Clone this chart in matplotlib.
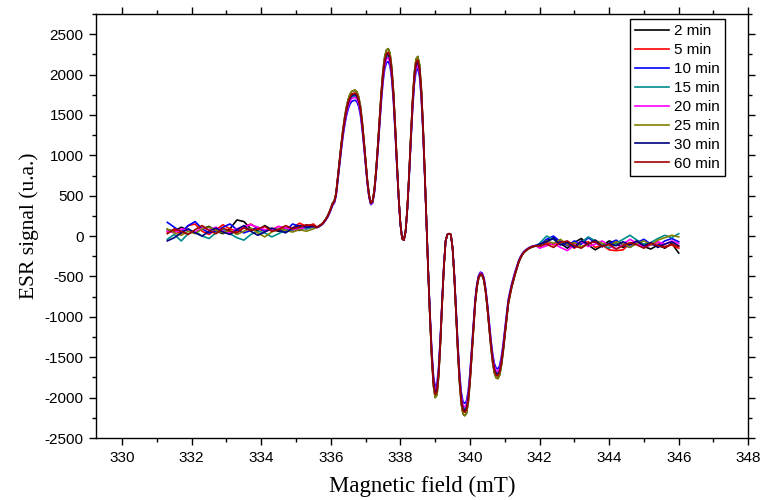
import numpy as np
import matplotlib
matplotlib.use('Agg')
import matplotlib.pyplot as plt
from matplotlib.ticker import MultipleLocator

# field grids (mT)
field_left = np.round(np.arange(331.3, 335.51, 0.2), 2)
field_peak = np.round(np.arange(335.60, 341.91, 0.05), 2)
field_right = np.round(np.arange(342.0, 346.01, 0.2), 2)

labels = ['2 min', '5 min', '10 min', '15 min', '20 min', '25 min', '30 min', '60 min']
colors = ['#000000', '#FF0000', '#0000FF', '#008B8B', '#FF00FF', '#808000', '#000080', '#A00000']

# common line shape of the spectrum
peak_signal = [
    110, 120, 135, 150, 175, 205, 240, 285, 340, 400,
    430, 520, 720, 920, 1120, 1300, 1450, 1570, 1660, 1720,
    1755, 1765, 1770, 1750, 1690, 1580, 1400, 1170, 920, 680,
    500, 410, 430, 560, 800, 1100, 1430, 1750, 2010, 2180,
    2260, 2275, 2220, 2050, 1760, 1350, 900, 480, 150, -30,
    -50, 60, 350, 760, 1220, 1650, 1980, 2150, 2180, 2080,
    1800, 1350, 780, 160, -450, -1000, -1480, -1820, -1960, -1930,
    -1700, -1300, -820, -380, -60, 20, 30, 20, -150, -500,
    -950, -1400, -1780, -2040, -2160, -2180, -2150, -2020, -1780, -1460,
    -1120, -820, -620, -510, -470, -480, -540, -680, -880, -1110,
    -1340, -1530, -1660, -1720, -1730, -1690, -1580, -1420, -1220, -1010,
    -830, -720, -620, -540, -460, -390, -320, -270, -230, -200,
    -180, -165, -150, -140, -130, -125, -120,
]

# amplitude of each run relative to the common shape
peak_scale = [1.02, 1.00, 0.95, 0.98, 0.97, 1.02, 0.99, 1.00]

# baseline noise, low field side
base_left = [
    [80, 60, 110, 70, 40, 90, 120, 60, 30, 90, 200, 180, 90, 70, 130, 80, 60, 100, 90, 70, 120, 130],
    [50, 70, 30, 130, 150, 60, 20, 80, 140, 90, 60, 110, 150, 90, 60, 80, 120, 90, 100, 160, 120, 150],
    [170, 110, 50, 130, 180, 90, 40, 60, 110, 150, 80, 40, 70, 110, 60, 90, 80, 60, 150, 120, 90, 130],
    [-40, 20, -60, 30, 60, 0, -30, 40, 80, 30, -20, -50, 20, 60, 40, -10, 30, 80, 70, 100, 90, 110],
    [60, 40, 90, 70, 50, 100, 80, 110, 60, 40, 90, 120, 140, 110, 80, 70, 120, 100, 80, 90, 110, 120],
    [90, 40, 10, 60, 30, 90, 110, 70, 40, 70, 20, 60, 100, 40, -10, 50, 90, 70, 50, 80, 60, 90],
    [-60, -20, 40, 90, 40, 0, 60, 100, 50, 20, 80, 130, 60, 10, 50, 100, 70, 40, 100, 130, 110, 120],
    [30, 90, 60, 20, 80, 130, 70, 30, 100, 60, 40, 100, 70, 90, 120, 60, 80, 130, 90, 110, 140, 130],
]

# baseline noise, high field side
base_right = [
    [-140, -60, -20, -90, -150, -80, -30, -110, -170, -120, -60, -90, -140, -100, -70, -130, -160, -110, -150, -90, -210],
    [-130, -80, -110, -60, -100, -150, -90, -70, -140, -110, -170, -180, -170, -90, -60, -120, -100, -80, -130, -110, -150],
    [-110, -40, 0, -70, -120, -60, -100, -20, -80, -130, -90, -50, -110, -140, -80, -40, -100, -120, -60, -30, -70],
    [-90, 0, -40, -100, -70, -130, -80, -10, -60, -110, -150, -90, -40, 10, -50, -100, -80, -30, 10, -20, 30],
    [-150, -120, -90, -140, -180, -110, -70, -130, -100, -60, -120, -160, -100, -40, -90, -140, -110, -70, -100, -60, -90],
    [-120, -60, -90, -40, -110, -80, -130, -100, -50, -90, -120, -70, -100, -140, -90, -60, -110, -50, -20, 10, -10],
    [-100, -70, -30, -110, -80, -140, -60, -100, -50, -130, -90, -120, -70, -110, -60, -120, -80, -140, -100, -70, -120],
    [-120, -100, -140, -80, -60, -120, -150, -90, -70, -130, -100, -160, -120, -80, -110, -150, -90, -120, -140, -100, -130],
]

plt.rcParams['font.family'] = ['Liberation Sans', 'DejaVu Sans']
plt.rcParams['axes.unicode_minus'] = False

fig = plt.figure(figsize=(7.62, 5.0), dpi=100)
ax = fig.add_axes([0.126, 0.124, 0.856, 0.848])

field = np.concatenate([field_left, field_peak, field_right])
for i in range(len(labels)):
    signal = np.concatenate([base_left[i], np.array(peak_signal) * peak_scale[i], base_right[i]])
    ax.plot(field, signal, color=colors[i], lw=1.2, label=labels[i])

ax.set_xlim(329.25, 348)
ax.set_ylim(-2500, 2750)
ax.xaxis.set_major_locator(MultipleLocator(2))
ax.xaxis.set_minor_locator(MultipleLocator(1))
ax.yaxis.set_major_locator(MultipleLocator(500))
ax.yaxis.set_minor_locator(MultipleLocator(250))
ax.tick_params(which='both', direction='out', top=True, right=True, labelsize=11, width=1.0)
ax.tick_params(which='major', length=5, pad=4)
ax.tick_params(which='minor', length=3)
for s in ax.spines.values():
    s.set_linewidth(1.0)

ax.set_xlabel('Magnetic field (mT)', family='Liberation Serif', fontsize=16.5, labelpad=8)
ax.set_ylabel('ESR signal (u.a.)', family='Liberation Serif', fontsize=15.5, labelpad=4)

leg = ax.legend(loc='upper right', bbox_to_anchor=(0.965, 0.988), fontsize=11, fancybox=False,
                edgecolor='black', framealpha=1, handlelength=2.2, handletextpad=0.35,
                labelspacing=0.32, borderpad=0.35, borderaxespad=0)
leg.get_frame().set_linewidth(1.0)

fig.savefig('out.png', dpi=100)
